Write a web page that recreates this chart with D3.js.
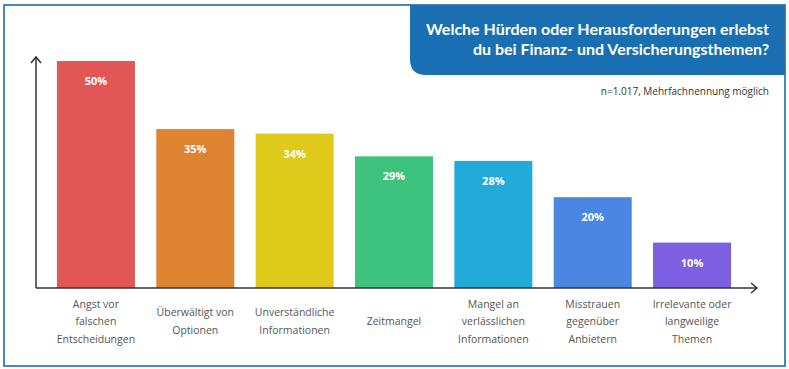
<!DOCTYPE html>
<html><head><meta charset="utf-8">
<script src="https://cdn.jsdelivr.net/npm/d3@7"></script>
<style>
html,body{margin:0;padding:0;background:#fff;}
svg{display:block;}
</style></head>
<body>
<svg id="chart" width="789" height="369"></svg>
<script>
const categories = [
  ["Angst vor", "falschen", "Entscheidungen"],
  ["Überwältigt von", "Optionen"],
  ["Unverständliche", "Informationen"],
  ["Zeitmangel"],
  ["Mangel an", "verlässlichen", "Informationen"],
  ["Misstrauen", "gegenüber", "Anbietern"],
  ["Irrelevante oder", "langweilige", "Themen"]
];
const values = [50, 35, 34, 29, 28, 20, 10];
const valueLabels = ["50%", "35%", "34%", "29%", "28%", "20%", "10%"];
const colors = ["#e25656", "#de8430", "#dfc91a", "#3ec37e", "#22aad9", "#4b87e2", "#7d5fe2"];
const titleLines = ["Welche Hürden oder Herausforderungen erlebst", "du bei Finanz- und Versicherungsthemen?"];
const subtitle = "n=1.017, Mehrfachnennung möglich";

const svg = d3.select("#chart");
const frameColor = "#1f6aa5";

// frame
svg.append("rect").attr("x", 4).attr("y", 5).attr("width", 781).attr("height", 361)
  .attr("fill", "#fff").attr("stroke", frameColor).attr("stroke-width", 1.6);

// title box with rounded bottom-left corner
const bx0 = 410, bx1 = 785, by0 = 5, by1 = 75, r = 16;
svg.append("path")
  .attr("d", `M${bx0},${by0} L${bx1},${by0} L${bx1},${by1} L${bx0 + r},${by1} Q${bx0},${by1} ${bx0},${by1 - r} Z`)
  .attr("fill", "#1a6fb3");

const tt = svg.append("g");
titleLines.forEach((t, i) => {
  tt.append("text").attr("x", 769).attr("y", 35 + i * 20)
    .attr("text-anchor", "end")
    .attr("font-family", "Lato, 'Open Sans', sans-serif")
    .attr("font-weight", "bold").attr("font-size", 16)
    .attr("fill", "#fff").text(t);
});
svg.append("text").attr("x", 769).attr("y", 95).attr("text-anchor", "end")
  .attr("font-family", "'Open Sans', sans-serif").attr("font-size", 10)
  .attr("fill", "#333").text(subtitle);

// scales
const x = d3.scaleBand().domain(d3.range(values.length)).range([46, 742]).paddingInner(0.215).paddingOuter(0.11);
const y = d3.scaleLinear().domain([0, 50]).range([288, 61]);

// bars
svg.append("g").selectAll("rect").data(values).join("rect")
  .attr("x", (d, i) => x(i)).attr("width", x.bandwidth())
  .attr("y", d => y(d)).attr("height", d => y(0) - y(d))
  .attr("fill", (d, i) => colors[i]);

// value labels
svg.append("g").selectAll("text").data(values).join("text")
  .attr("x", (d, i) => x(i) + x.bandwidth() / 2)
  .attr("y", d => y(d) + 24)
  .attr("text-anchor", "middle")
  .attr("font-family", "'Open Sans', sans-serif").attr("font-weight", "bold").attr("font-size", 11)
  .attr("fill", "#fff")
  .text((d, i) => valueLabels[i]);

// axes with arrows
const axisColor = "#333";
const ax = svg.append("g").attr("stroke", axisColor).attr("stroke-width", 1.5).attr("fill", "none");
ax.append("line").attr("x1", 36).attr("y1", 288).attr("x2", 36).attr("y2", 57);
ax.append("path").attr("d", "M31,63 L36,57 L41,63");
ax.append("line").attr("x1", 36).attr("y1", 288).attr("x2", 757).attr("y2", 288);
ax.append("path").attr("d", "M751,283 L757,288 L751,293");

// category labels
const lh = 17.5;
const cg = svg.append("g");
categories.forEach((lines, i) => {
  const cx = x(i) + x.bandwidth() / 2;
  const startY = 321 - (lines.length - 1) * lh / 2 + 4;
  lines.forEach((ln, j) => {
    cg.append("text").attr("x", cx).attr("y", startY + j * lh)
      .attr("text-anchor", "middle")
      .attr("font-family", "'Open Sans', sans-serif").attr("font-size", 10.5)
      .attr("fill", "#555").text(ln);
  });
});
</script>
</body></html>
